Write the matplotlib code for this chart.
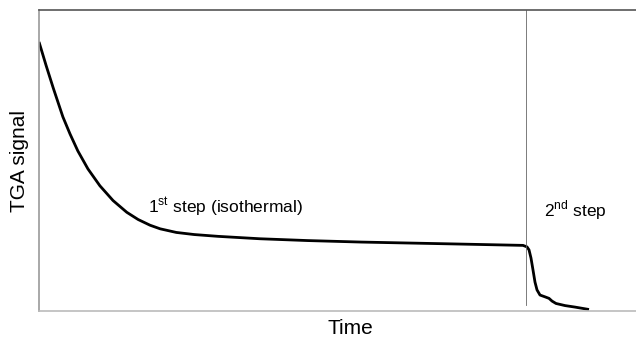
import matplotlib
matplotlib.use("Agg")
import matplotlib.pyplot as plt

plt.rcParams["font.family"] = ["Liberation Sans", "DejaVu Sans"]
plt.rcParams["mathtext.fontset"] = "custom"
plt.rcParams["mathtext.rm"] = "Liberation Sans"

# TGA trace (arbitrary units)
time = [0.0, 1.2, 2.4, 4.0, 5.2, 6.5, 8.2, 10.2, 12.4, 14.7, 16.6,
        18.6, 20.3, 23.0, 26.0, 30.0, 37.0, 45.0, 54.0, 69.0, 81.07,
        81.74, 82.08, 82.41, 82.75, 83.08, 83.42, 83.92, 84.76, 85.43,
        85.93, 86.60, 88.11, 89.78, 92.13]
signal = [89.4, 81.5, 74.0, 64.5, 58.8, 53.2, 47.2, 41.6, 36.7, 32.8, 30.4,
          28.5, 27.3, 26.1, 25.4, 24.8, 24.0, 23.4, 22.9, 22.3, 21.8,
          21.3, 20.3, 17.6, 13.6, 9.6, 7.0, 5.3, 4.7, 4.2,
          3.3, 2.5, 1.8, 1.3, 0.5]
step_change = 81.57

fig = plt.figure(figsize=(6.36, 3.4), dpi=100)
ax = fig.add_axes([39 / 636, 29 / 340, 597 / 636, 301 / 340])

ax.plot(time, signal, color="k", lw=2.0, solid_joinstyle="round",
        solid_capstyle="butt")
ax.axvline(step_change, ymin=0.02, ymax=1, color="#666666", lw=0.6)

ax.text(18.3, 34.5, r"1$^{\mathrm{st}}$ step (isothermal)", fontsize=12.5,
        va="center", ha="left")
ax.text(84.6, 33.5, r"2$^{\mathrm{nd}}$ step", fontsize=12.5,
        va="center", ha="left")

ax.set(xlim=[0, 100], ylim=[0, 100], xticks=[], yticks=[])
ax.spines["right"].set_visible(False)
ax.spines["top"].set_color("#555555")
ax.spines["left"].set_color("#999999")
ax.spines["bottom"].set_color("#bbbbbb")
for side in ["top", "left", "bottom"]:
    ax.spines[side].set_linewidth(1.2)

ax.set_ylabel("TGA signal", fontsize=15, va="center")
ax.yaxis.set_label_coords(-0.032, 0.5)
ax.set_xlabel("Time", fontsize=15, va="center")
ax.xaxis.set_label_coords(0.521, -0.0565)

fig.savefig("out.png", dpi=100)
